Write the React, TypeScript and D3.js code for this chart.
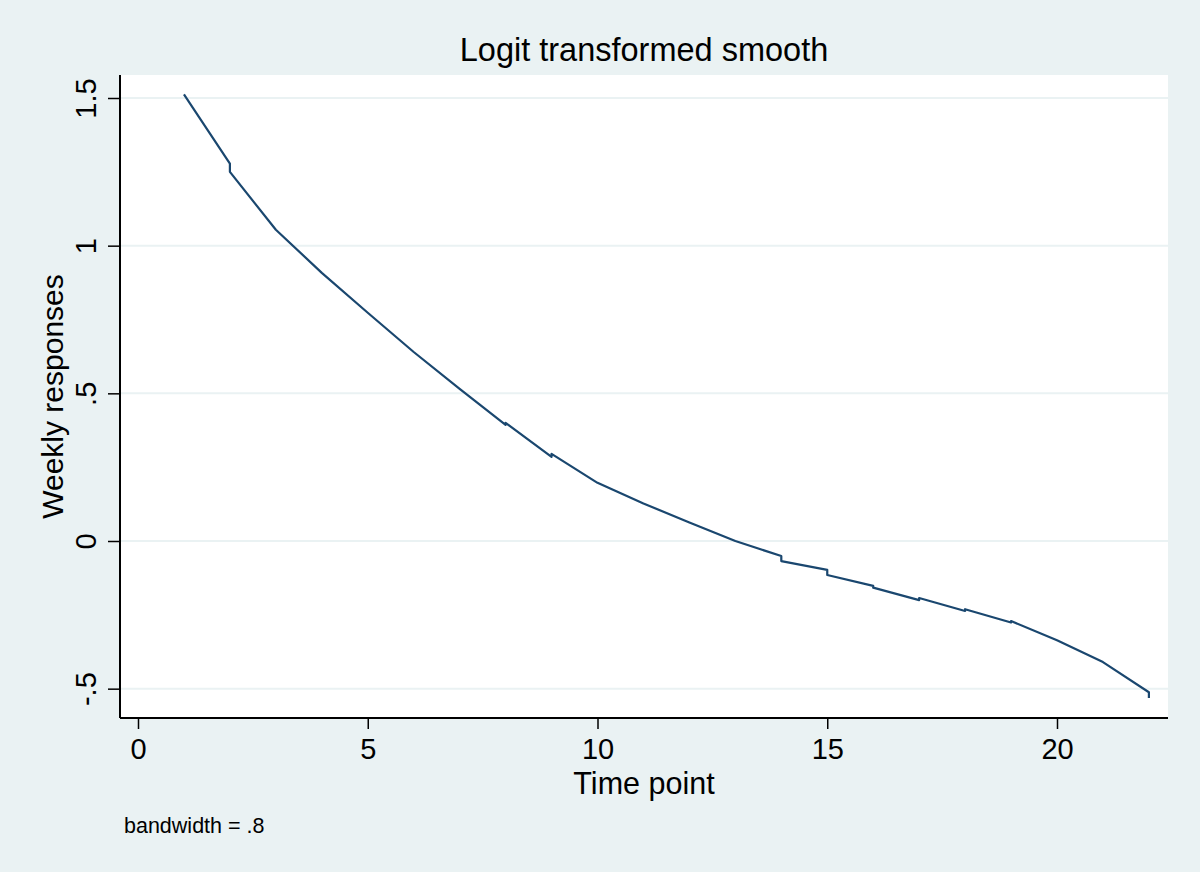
import React, { useRef, useEffect } from 'react'
import * as d3 from 'd3'

// lowess fit: each time point has the value just before and just after its small step
const timePoints = [1, 2, 2, 3, 4, 5, 6, 7, 8, 8, 9, 9, 10, 11, 12, 13, 14, 14, 15, 15, 16, 16, 17, 17, 18, 18, 19, 19, 20, 21, 22, 22]
const smoothValues = [1.512, 1.278, 1.25, 1.054, 0.908, 0.773, 0.64, 0.515, 0.393, 0.4, 0.285, 0.295, 0.197, 0.127, 0.063, 0.0, -0.051, -0.068, -0.098, -0.115, -0.152, -0.158, -0.2, -0.193, -0.237, -0.231, -0.276, -0.271, -0.336, -0.41, -0.512, -0.532]

const xTicks = [0, 5, 10, 15, 20]
const yTicks = [-0.5, 0, 0.5, 1, 1.5]
const yTickLabels = ['-.5', '0', '.5', '1', '1.5']

export default function App() {
  const svgRef = useRef<SVGSVGElement>(null)

  useEffect(() => {
    if (!svgRef.current) return
    const svg = d3.select(svgRef.current)
    svg.selectAll('*').remove()

    const width = 1200
    const height = 872
    const plot = { left: 120, right: 1168, top: 75, bottom: 718 }
    const font = 'Liberation Sans, Arial, Helvetica, sans-serif'
    const bg = '#eaf2f3'

    svg.append('rect').attr('width', width).attr('height', height).attr('fill', bg)
    svg.append('rect')
      .attr('x', plot.left).attr('y', plot.top)
      .attr('width', plot.right - plot.left).attr('height', plot.bottom - plot.top)
      .attr('fill', '#ffffff')

    const x = d3.scaleLinear().domain([0, 20]).range([138, 1057])
    const y = d3.scaleLinear().domain([0, 1.5]).range([541, 98])

    // grid lines
    svg.append('g').selectAll('line')
      .data(yTicks)
      .enter().append('line')
      .attr('x1', plot.left + 1).attr('x2', plot.right)
      .attr('y1', d => y(d)).attr('y2', d => y(d))
      .attr('stroke', bg).attr('stroke-width', 2)

    // x axis
    const xAxis = svg.append('g')
      .attr('transform', `translate(0,${plot.bottom})`)
      .call(d3.axisBottom(x).tickValues(xTicks).tickSize(11).tickSizeOuter(0).tickFormat(d3.format('d')))
    xAxis.select('.domain').remove()
    xAxis.selectAll('line').attr('stroke', '#000').attr('stroke-width', 1.5)
    xAxis.selectAll('text').attr('font-family', font).attr('font-size', 29).attr('fill', '#000').attr('dy', '0.3em').attr('y', 32)
    svg.append('line')
      .attr('x1', plot.left).attr('x2', plot.right)
      .attr('y1', plot.bottom).attr('y2', plot.bottom)
      .attr('stroke', '#000').attr('stroke-width', 2)

    // y axis
    const yAxis = svg.append('g')
      .attr('transform', `translate(${plot.left},0)`)
      .call(d3.axisLeft(y).tickValues(yTicks).tickSize(12).tickSizeOuter(0))
    yAxis.select('.domain').remove()
    yAxis.selectAll('line').attr('stroke', '#000').attr('stroke-width', 1.5)
    yAxis.selectAll('text').remove()
    yAxis.selectAll('.tick').append('text')
      .attr('transform', 'translate(-24,0) rotate(-90)')
      .attr('text-anchor', 'middle')
      .attr('font-family', font).attr('font-size', 29).attr('fill', '#000')
      .text((_, i) => yTickLabels[i])
    svg.append('line')
      .attr('x1', plot.left).attr('x2', plot.left)
      .attr('y1', plot.top).attr('y2', plot.bottom)
      .attr('stroke', '#000').attr('stroke-width', 2)

    // smooth line
    const pts = timePoints.map((t, i) => [t, smoothValues[i]] as [number, number])
    const line = d3.line<[number, number]>().x(d => x(d[0])).y(d => y(d[1]))
    svg.append('path')
      .attr('d', line(pts))
      .attr('fill', 'none')
      .attr('stroke', '#1a476f')
      .attr('stroke-width', 2.2)
      .attr('stroke-linejoin', 'round')

    // titles
    svg.append('text')
      .attr('x', (plot.left + plot.right) / 2).attr('y', 61)
      .attr('text-anchor', 'middle')
      .attr('font-family', font).attr('font-size', 32.5)
      .text('Logit transformed smooth')
    svg.append('text')
      .attr('x', (plot.left + plot.right) / 2).attr('y', 794)
      .attr('text-anchor', 'middle')
      .attr('font-family', font).attr('font-size', 30.5)
      .text('Time point')
    svg.append('text')
      .attr('transform', `translate(63,${(plot.top + plot.bottom) / 2}) rotate(-90)`)
      .attr('text-anchor', 'middle')
      .attr('font-family', font).attr('font-size', 30)
      .text('Weekly responses')
    svg.append('text')
      .attr('x', 124).attr('y', 833)
      .attr('font-family', font).attr('font-size', 21.5)
      .text('bandwidth = .8')
  }, [])

  return (
    <svg ref={svgRef} width={1200} height={872} style={{ position: 'absolute', left: 0, top: 0 }} />
  )
}
